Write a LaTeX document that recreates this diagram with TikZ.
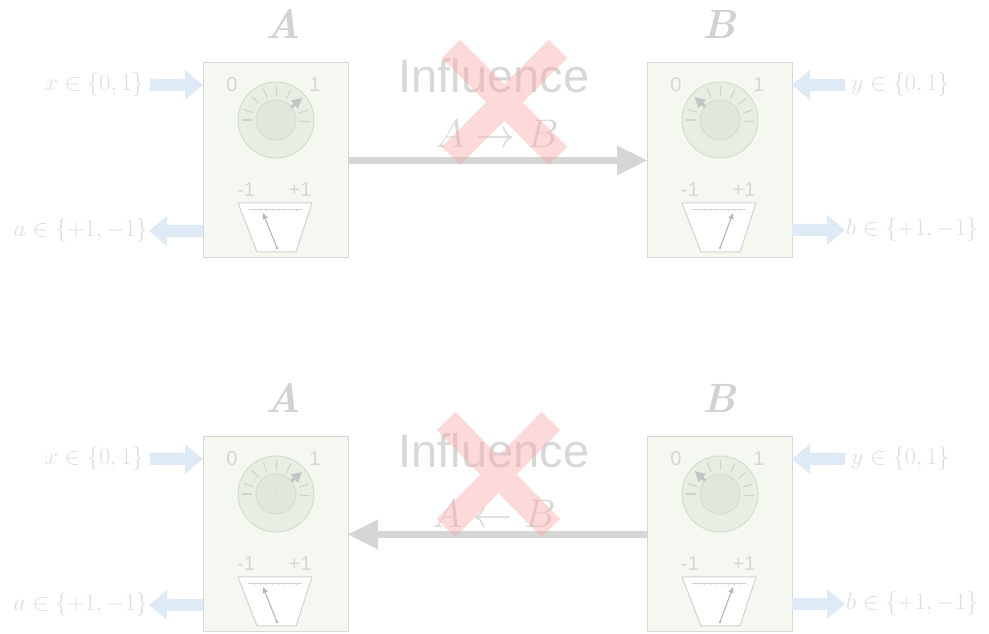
\RequirePackage{fix-cm}
\documentclass[tikz,border=0pt]{standalone}
\usepackage{fontspec}
\newfontfamily\labelsans{Liberation Sans}
\usetikzlibrary{calc,arrows.meta}

\definecolor{boxfill}{RGB}{244,248,241}
\definecolor{boxedge}{RGB}{214,216,212}
\definecolor{dialfill}{RGB}{230,239,226}
\definecolor{dialedge}{RGB}{212,222,208}
\definecolor{hubfill}{RGB}{223,232,219}
\definecolor{tickcol}{RGB}{206,214,203}
\definecolor{knobcol}{RGB}{196,196,196}
\definecolor{needlecol}{RGB}{182,182,182}
\definecolor{meteredge}{RGB}{210,210,210}
\definecolor{digitcol}{RGB}{214,214,214}
\definecolor{titlecol}{RGB}{210,210,210}
\definecolor{inflcol}{RGB}{216,216,216}
\definecolor{labelcol}{RGB}{222,222,222}
\definecolor{flowcol}{RGB}{222,234,246}
\definecolor{linkcol}{RGB}{214,214,214}
\definecolor{crosscol}{RGB}{250,168,168}

\tikzset{
  devbox/.style={draw=boxedge, fill=boxfill, line width=1pt, minimum width=145pt,
    minimum height=195pt, anchor=north west, inner sep=0pt, outer sep=0pt},
  dialouter/.style={fill=dialfill, draw=dialedge, line width=1pt},
  dialinner/.style={fill=hubfill, draw=dialedge, line width=1pt},
  dialtick/.style={draw=tickcol, line width=1.1pt},
  digit/.style={text=digitcol, font={\labelsans\fontsize{20}{22}\selectfont}, inner sep=0pt},
  meter/.style={fill=white, draw=meteredge, line width=1pt, line join=round},
  scaleline/.style={draw=meteredge, line width=0.8pt},
  needle/.style={draw=needlecol, line width=1.1pt, -{Triangle[length=6pt,width=5pt]}},
  title/.style={text=titlecol, font={\fontsize{41}{44}\selectfont\bfseries\itshape}, inner sep=0pt},
  infltext/.style={text=inflcol, font={\labelsans\fontsize{47}{50}\selectfont}, inner sep=0pt},
  inflmath/.style={text=inflcol, font={\fontsize{40}{44}\selectfont}, inner sep=0pt},
  mathlabel/.style={text=labelcol, font={\fontsize{24}{26}\selectfont}, inner sep=0pt},
  flowfill/.style={fill=flowcol},
  linkline/.style={draw=linkcol, line width=7pt},
  linkhead/.style={fill=linkcol},
  cross/.style={draw=crosscol, line width=26pt}
}

% dial knob, meter and needle inside one device box
% #1 box node, #2 knob angle, #3 tick angles, #4 needle pivot, #5 needle tip
\newcommand\devicebody[5]{%
  \begin{scope}[shift={(#1.north west)}]
    \begin{scope}[shift={(73,-57)}]
      \filldraw[dialouter] (0,0) circle[radius=38];
      \foreach \t in {#3} \draw[dialtick] (\t:24) -- (\t:34);
      \filldraw[dialinner] (0,0) circle[radius=20];
      \fill[dialedge] (0,0) circle[radius=1.1];
      \draw[draw=knobcol, line width=3pt] (#2:20) -- (#2:25);
      \fill[knobcol] (#2:34) -- ({#2+13}:24.6) -- ({#2-13}:24.6) -- cycle;
    \end{scope}
    \node[digit] at (29,-22) {0};
    \node[digit] at (112,-22) {1};
    \node[digit] at (43,-127) {-1};
    \node[digit] at (97,-127) {+1};
    \filldraw[meter] (35,-140) -- (109,-140) -- (93,-189) -- (54,-189) -- cycle;
    \draw[scaleline] (45,-146) -- (99,-146);
    \foreach \s in {51,57,...,93} \draw[draw=meteredge, line width=0.5pt] (\s,-146) -- (\s,-148);
    \fill[needlecol] #4 circle[radius=1.4];
    \draw[needle] #4 -- #5;
  \end{scope}}

% horizontal block arrows, pointing right / left
\newcommand\rightflow[2]{%
  \fill[flowfill] ($(#1)+(0,6)$) -- ($(#2)+(-18,6)$) -- ($(#2)+(-18,15)$) -- (#2)
    -- ($(#2)+(-18,-15)$) -- ($(#2)+(-18,-6)$) -- ($(#1)+(0,-6)$) -- cycle;}
\newcommand\leftflow[2]{%
  \fill[flowfill] ($(#1)+(0,6)$) -- ($(#2)+(18,6)$) -- ($(#2)+(18,15)$) -- (#2)
    -- ($(#2)+(18,-15)$) -- ($(#2)+(18,-6)$) -- ($(#1)+(0,-6)$) -- cycle;}

% one pair of parties: left box, right box, vertical offset of the row
\newcommand\partyrow[3]{%
  \node[devbox] (#1) at (203,#3) {};
  \node[devbox] (#2) at (647,#3) {};
  \node[title] (#1-name) at ($(#1.north)+(8,-24+63)$) {A};
  \node[title] (#2-name) at ($(#2.north)+(0,-24+63)$) {B};
  % inputs and outputs of the left party
  \coordinate (#1-xin) at ($(#1.north west)+(-53,-22)$);
  \coordinate (#1-xto) at ($(#1.north west)+(0,-22)$);
  \rightflow{#1-xin}{#1-xto}
  \node[mathlabel, anchor=east] (#1-xlab) at ($(#1-xin)+(-6,0)$) {$x\in\{0,1\}$};
  \coordinate (#1-aout) at ($(#1.north west)+(0,-168)$);
  \coordinate (#1-ato) at ($(#1.north west)+(-54,-168)$);
  \leftflow{#1-aout}{#1-ato}
  \node[mathlabel, anchor=east] (#1-alab) at ($(#1-ato)+(-1,0)$) {$a\in\{+1,-1\}$};
  % inputs and outputs of the right party
  \coordinate (#2-yin) at ($(#2.north east)+(53,-22)$);
  \coordinate (#2-yto) at ($(#2.north east)+(0,-22)$);
  \leftflow{#2-yin}{#2-yto}
  \node[mathlabel, anchor=west] (#2-ylab) at ($(#2-yin)+(6,0)$) {$y\in\{0,1\}$};
  \coordinate (#2-bout) at ($(#2.north east)+(0,-167)$);
  \coordinate (#2-bto) at ($(#2.north east)+(53,-167)$);
  \rightflow{#2-bout}{#2-bto}
  \node[mathlabel, anchor=west] (#2-blab) at ($(#2-bto)+(1,0)$) {$b\in\{+1,-1\}$};
  \devicebody{#1}{40}{180,162,136,112,89,64,17,-3}{(74,-185)}{(60,-150)}
  \devicebody{#2}{138}{180,162,112,89,64,40,17,-3}{(73,-185)}{(86,-150)}
}

\begin{document}
\begin{tikzpicture}[x=1pt,y=1pt]
  \useasboundingbox (0,0) rectangle (989,634);

  % upper row: influence from A to B
  \partyrow{A1}{B1}{571}
  \draw[linkline] (A1.east) -- ($(B1.west)+(-28,0)$);
  \fill[linkhead] (B1.west) -- ++(-30,15) -- ++(0,-30) -- cycle;
  \node[infltext, anchor=base] (inf1) at (494,541) {Influence};
  \node[inflmath, anchor=base] (dir1) at (497,486) {$A \rightarrow B$};
  \begin{scope}[transparency group, opacity=0.42]
    \draw[cross] (451,585) -- (558,478);
    \draw[cross] (558,585) -- (451,478);
  \end{scope}

  % lower row: influence from B to A
  \partyrow{A2}{B2}{197}
  \draw[linkline] (B2.west) -- ($(A2.east)+(28,0)$);
  \fill[linkhead] (A2.east) -- ++(30,15) -- ++(0,-30) -- cycle;
  \node[infltext, anchor=base] (inf2) at (494,166) {Influence};
  \node[inflmath, anchor=base] (dir2) at (494,106) {$A \leftarrow B$};
  \begin{scope}[transparency group, opacity=0.42]
    \draw[cross] (446,213) -- (551,106);
    \draw[cross] (551,213) -- (446,106);
  \end{scope}
\end{tikzpicture}
\end{document}
